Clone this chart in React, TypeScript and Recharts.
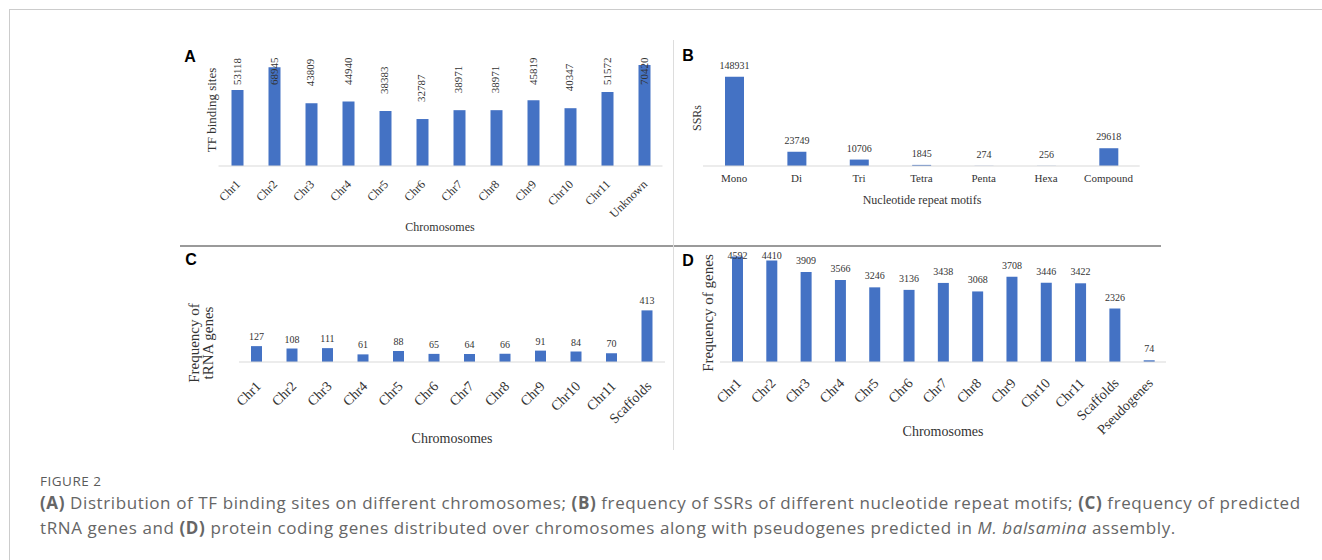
import React from 'react';
import { BarChart, Bar, XAxis, YAxis, LabelList } from 'recharts';

const chromA = ['Chr1', 'Chr2', 'Chr3', 'Chr4', 'Chr5', 'Chr6', 'Chr7', 'Chr8', 'Chr9', 'Chr10', 'Chr11', 'Unknown'];
const tfSites = [53118, 68945, 43809, 44940, 38383, 32787, 38971, 38971, 45819, 40347, 51572, 70420];

const motifs = ['Mono', 'Di', 'Tri', 'Tetra', 'Penta', 'Hexa', 'Compound'];
const ssrCounts = [148931, 23749, 10706, 1845, 274, 256, 29618];

const chromC = ['Chr1', 'Chr2', 'Chr3', 'Chr4', 'Chr5', 'Chr6', 'Chr7', 'Chr8', 'Chr9', 'Chr10', 'Chr11', 'Scaffolds'];
const trnaCounts = [127, 108, 111, 61, 88, 65, 64, 66, 91, 84, 70, 413];

const chromD = ['Chr1', 'Chr2', 'Chr3', 'Chr4', 'Chr5', 'Chr6', 'Chr7', 'Chr8', 'Chr9', 'Chr10', 'Chr11', 'Scaffolds', 'Pseudogenes'];
const geneCounts = [4592, 4410, 3909, 3566, 3246, 3136, 3438, 3068, 3708, 3446, 3422, 2326, 74];

const toRows = (cats: string[], vals: number[]) => cats.map((c, i) => ({ name: c, v: vals[i] }));

const SERIF = '"Liberation Serif", "Times New Roman", serif';
const BLUE = '#4472C4';
const AXIS = '#d9d9d9';
const TXT = '#333333';

const makeRotTick = (dx: number, dy: number, size: number) => (props: any) => {
  const { x, y, payload } = props;
  return (
    <g transform={`translate(${x + dx},${y + dy})`}>
      <text x={0} y={0} textAnchor="end" transform="rotate(-45)" fontFamily={SERIF} fontSize={size} fill={TXT}>
        {payload.value}
      </text>
    </g>
  );
};

const VertLabel = (props: any) => {
  const { x, y, width, value } = props;
  const cx = x + width / 2;
  const yb = Math.max(y - 17, 65);
  return (
    <text x={cx + 3} y={yb} transform={`rotate(-90, ${cx + 3}, ${yb})`} textAnchor="start" fontFamily={SERIF} fontSize={11} fill={TXT}>
      {value}
    </text>
  );
};

const makeTopLabel = (gap: number, minY: number) => (props: any) => {
  const { x, y, width, value } = props;
  const yb = Math.max(y - gap, minY);
  return (
    <text x={x + width / 2} y={yb} textAnchor="middle" fontFamily={SERIF} fontSize={10} fill={TXT}>
      {value}
    </text>
  );
};

const abs = (left: number, top: number): React.CSSProperties => ({ position: 'absolute', left, top });

const Title = ({ x, y, text, size, rotate }: { x: number; y: number; text: string; size: number; rotate?: boolean }) => (
  <div
    style={{
      position: 'absolute',
      left: x,
      top: y,
      transform: `translate(-50%, -50%)${rotate ? ' rotate(-90deg)' : ''}`,
      fontFamily: SERIF,
      fontSize: size,
      color: TXT,
      whiteSpace: 'nowrap',
      lineHeight: 1.2,
      textAlign: 'center',
    }}
  >
    {text}
  </div>
);

const Letter = ({ x, y, t }: { x: number; y: number; t: string }) => (
  <div
    style={{
      position: 'absolute',
      left: x,
      top: y,
      transform: 'translate(-50%, -50%)',
      fontFamily: '"Liberation Sans", Arial, sans-serif',
      fontWeight: 700,
      fontSize: 16,
      color: '#000',
      lineHeight: 1,
    }}
  >
    {t}
  </div>
);

const CAP_FONT = '"Open Sans", "Noto Sans", sans-serif';

export default function App() {
  const dataA = toRows(chromA, tfSites);
  const dataB = toRows(motifs, ssrCounts);
  const dataC = toRows(chromC, trnaCounts);
  const dataD = toRows(chromD, geneCounts);

  return (
    <div style={{ position: 'relative', width: 1322, height: 560, background: '#fff', overflow: 'hidden' }}>
      <style>{'body{margin:0}'}</style>
      {/* frame */}
      <div style={{ position: 'absolute', left: 9, top: 9, width: 1313, height: 0, borderTop: '1.5px solid #cccccc' }} />
      <div style={{ position: 'absolute', left: 9, top: 9, width: 0, height: 551, borderLeft: '1.5px solid #cccccc' }} />

      {/* Panel A */}
      <div style={abs(170, 20)}>
        <BarChart width={500} height={225} data={dataA} margin={{ top: 31.4, right: 7.5, left: 48.5, bottom: 0 }}>
          <XAxis dataKey="name" height={79} interval={0} tickLine={false} axisLine={{ stroke: AXIS }} tick={makeRotTick(4, 11, 12)} />
          <YAxis hide domain={[0, 80000]} />
          <Bar dataKey="v" fill={BLUE} barSize={12} isAnimationActive={false}>
            <LabelList dataKey="v" content={VertLabel} />
          </Bar>
        </BarChart>
      </div>

      {/* Panel B */}
      <div style={abs(670, 20)}>
        <BarChart width={500} height={200} data={dataB} margin={{ top: 50, right: 30.3, left: 33, bottom: 0 }}>
          <XAxis dataKey="name" height={54} interval={0} tickLine={false} axisLine={{ stroke: AXIS }} tick={{ fontFamily: SERIF, fontSize: 11, fill: TXT }} />
          <YAxis hide domain={[0, 160000]} />
          <Bar dataKey="v" fill={BLUE} barSize={19} isAnimationActive={false}>
            <LabelList dataKey="v" content={makeTopLabel(8, 0)} />
          </Bar>
        </BarChart>
      </div>

      {/* Panel C */}
      <div style={abs(170, 245)}>
        <BarChart width={500} height={215} data={dataC} margin={{ top: 60.75, right: 5, left: 69, bottom: 0 }}>
          <XAxis dataKey="name" height={98} interval={0} tickLine={false} axisLine={{ stroke: AXIS }} tick={makeRotTick(5, 17, 14)} />
          <YAxis hide domain={[0, 450]} />
          <Bar dataKey="v" fill={BLUE} barSize={11} isAnimationActive={false}>
            <LabelList dataKey="v" content={makeTopLabel(6, 0)} />
          </Bar>
        </BarChart>
      </div>

      {/* Panel D */}
      <div style={abs(670, 245)}>
        <BarChart width={500} height={215} data={dataD} margin={{ top: 2, right: 4, left: 50, bottom: 0 }}>
          <XAxis dataKey="name" height={98} interval={0} tickLine={false} axisLine={{ stroke: AXIS }} tick={makeRotTick(5, 14, 14)} />
          <YAxis hide domain={[0, 5000]} />
          <Bar dataKey="v" fill={BLUE} barSize={11} isAnimationActive={false}>
            <LabelList dataKey="v" content={makeTopLabel(8, 14)} />
          </Bar>
        </BarChart>
      </div>

      {/* separators */}
      <div style={{ position: 'absolute', left: 180, top: 244.5, width: 981, height: 2, background: '#9a9a9a' }} />
      <div style={{ position: 'absolute', left: 673, top: 40, width: 1, height: 410, background: '#dddddd' }} />

      {/* panel letters */}
      <Letter x={190} y={57} t="A" />
      <Letter x={688} y={56} t="B" />
      <Letter x={191} y={260} t="C" />
      <Letter x={688} y={261} t="D" />

      {/* axis titles */}
      <Title x={212} y={110} text="TF binding sites" size={13} rotate />
      <Title x={440} y={227} text="Chromosomes" size={12} />
      <Title x={697} y={118} text="SSRs" size={12} rotate />
      <Title x={922} y={200} text="Nucleotide repeat motifs" size={12} />
      <div
        style={{
          position: 'absolute',
          left: 201,
          top: 343,
          transform: 'translate(-50%, -50%) rotate(-90deg)',
          fontFamily: SERIF,
          fontSize: 15,
          color: TXT,
          whiteSpace: 'nowrap',
          lineHeight: '14px',
          textAlign: 'center',
        }}
      >
        Frequency of
        <br />
        tRNA genes
      </div>
      <Title x={452} y={439} text="Chromosomes" size={14} />
      <Title x={708} y={313} text="Frequency of genes" size={15} rotate />
      <Title x={943} y={432} text="Chromosomes" size={14} />

      {/* caption */}
      <div style={{ position: 'absolute', left: 40, top: 472, fontFamily: CAP_FONT, fontSize: 13.5, color: '#5a5a5a', letterSpacing: 0.5 }}>
        FIGURE 2
      </div>
      <div
        style={{
          position: 'absolute',
          left: 40,
          top: 490,
          fontFamily: CAP_FONT,
          fontSize: 17,
          lineHeight: '25px',
          letterSpacing: 0.6,
          color: '#666666',
          whiteSpace: 'nowrap',
        }}
      >
        <b>(A)</b> Distribution of TF binding sites on different chromosomes; <b>(B)</b> frequency of SSRs of different nucleotide repeat motifs;{' '}
        <b>(C)</b> frequency of predicted
        <br />
        tRNA genes and <b>(D)</b> protein coding genes distributed over chromosomes along with pseudogenes predicted in <i>M. balsamina</i> assembly.
      </div>
    </div>
  );
}
